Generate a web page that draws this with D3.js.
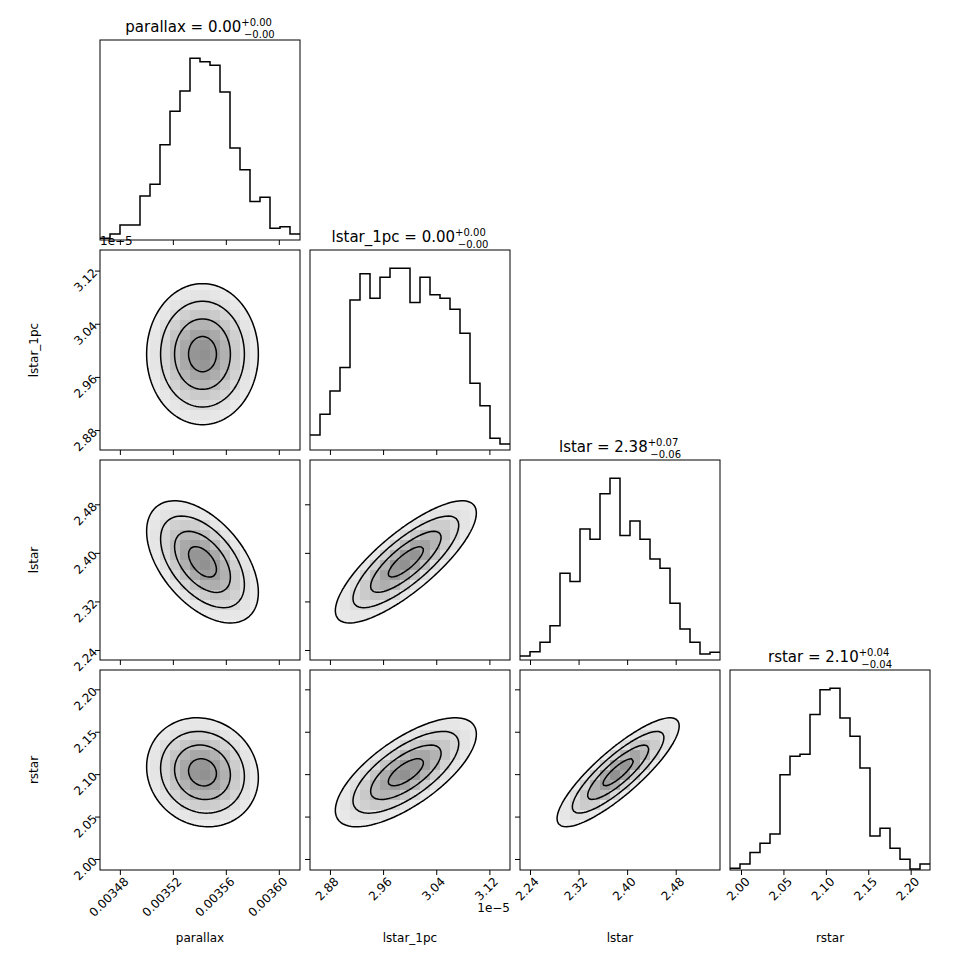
<!DOCTYPE html>
<html><head><meta charset="utf-8">
<script src="https://cdn.jsdelivr.net/npm/d3@7"></script>
<style>
body { margin: 0; background: #fff; }
text { font-family: "DejaVu Sans", sans-serif; }
</style></head>
<body><div id="chart"></div>
<script>
// variable names, axis ranges and ticks
let names = ['parallax', 'lstar_1pc', 'lstar', 'rstar']
let domains = [[0.003465, 0.003616], [2.85, 3.151], [2.2235, 2.553], [1.987, 2.2228]]
let ticks = [[0.00348, 0.00352, 0.00356, 0.00360], [2.88, 2.96, 3.04, 3.12], [2.24, 2.32, 2.40, 2.48], [2.00, 2.05, 2.10, 2.15, 2.20]]
let tickFmt = [d3.format('.5f'), d3.format('.2f'), d3.format('.2f'), d3.format('.2f')]
let titles = [['0.00', '+0.00', '\u22120.00'], ['0.00', '+0.00', '\u22120.00'], ['2.38', '+0.07', '\u22120.06'], ['2.10', '+0.04', '\u22120.04']]

// histogram counts (20 bins)
let histParallax = [5, 18, 45, 45, 132, 167, 285, 385, 446, 544, 533, 523, 443, 275, 210, 115, 128, 35, 40, 18]
let histLstar1pc = [45, 107, 177, 247, 450, 528, 455, 518, 545, 545, 442, 518, 465, 455, 422, 350, 200, 133, 35, 18]
let histLstar = [12, 25, 53, 103, 260, 235, 393, 362, 498, 545, 373, 417, 362, 303, 275, 170, 93, 53, 18, 23]
let histRstar = [5, 18, 52, 80, 108, 285, 340, 346, 465, 539, 544, 455, 400, 305, 102, 125, 65, 32, 3, 18]
let hists = [histParallax, histLstar1pc, histLstar, histRstar]

let corr = [
    [1, 0.0, -0.5, -0.1],
    [0.0, 1, 0.8, 0.7],
    [-0.5, 0.8, 1, 0.85],
    [-0.1, 0.7, 0.85, 1]
]

let size = 200, gap = 10, marginLeft = 100, marginTop = 40
let n = names.length

let svg = d3.select('#chart').append('svg')
    .attr('width', 970).attr('height', 970)

// moments from each histogram
let stats = hists.map((h, k) => {
    let [a, b] = domains[k]
    let w = (b - a) / h.length
    let tot = d3.sum(h)
    let m = d3.sum(h, (c, i) => c * (a + (i + 0.5) * w)) / tot
    let v = d3.sum(h, (c, i) => c * Math.pow(a + (i + 0.5) * w - m, 2)) / tot
    return { mean: m, sd: Math.sqrt(v) * 0.85 }
})

function panelScales(i, j) {
    let x = d3.scaleLinear().domain(domains[j]).range([0, size])
    let y = d3.scaleLinear().domain(domains[i]).range([size, 0])
    return { x, y }
}

function drawAxes(g, i, j, s, isHist) {
    let xAxis = d3.axisBottom(s.x).tickValues(ticks[j]).tickSizeOuter(0).tickSize(5)
    let gx = g.append('g').attr('transform', `translate(0,${size})`).call(xAxis)
    if (i < n - 1) gx.selectAll('text').remove()
    else {
        gx.selectAll('text').text(d => tickFmt[j](d))
            .attr('text-anchor', 'end').attr('dx', '-0.2em').attr('dy', '0.6em')
            .attr('transform', 'rotate(-45)').style('font-size', '12px').attr('fill', '#000')
    }
    if (!isHist) {
        let yAxis = d3.axisLeft(s.y).tickValues(ticks[i]).tickSizeOuter(0).tickSize(5)
        let gy = g.append('g').call(yAxis)
        if (j > 0) gy.selectAll('text').remove()
        else {
            gy.selectAll('text').text(d => tickFmt[i](d))
                .attr('text-anchor', 'end').attr('dx', '0.2em').attr('dy', '0.5em')
                .attr('transform', 'rotate(-45,-8,0)').style('font-size', '12px').attr('fill', '#000')
        }
        gy.select('.domain').remove()
    }
    gx.select('.domain').remove()
    g.append('rect').attr('width', size).attr('height', size)
        .attr('fill', 'none').attr('stroke', '#000').attr('stroke-width', 1)
}

for (let i = 0; i < n; i++) {
    for (let j = 0; j <= i; j++) {
        let g = svg.append('g')
            .attr('transform', `translate(${marginLeft + j * (size + gap)},${marginTop + i * (size + gap)})`)
        let s = panelScales(i, j)
        if (i === j) {
            let h = hists[i]
            let [a, b] = domains[i]
            let w = (b - a) / h.length
            let y = d3.scaleLinear().domain([0, d3.max(h) * 1.1]).range([size, 0])
            let pts = []
            h.forEach((c, k) => {
                pts.push([s.x(a + k * w), y(c)])
                pts.push([s.x(a + (k + 1) * w), y(c)])
            })
            g.append('path').attr('d', d3.line()(pts))
                .attr('fill', 'none').attr('stroke', '#000').attr('stroke-width', 1.5)
            drawAxes(g, i, j, s, true)
            let t = titles[i]
            let tt = g.append('text').attr('x', size / 2).attr('y', -8)
                .attr('text-anchor', 'middle').style('font-size', '15px')
            tt.append('tspan').text(`${names[i]} = ${t[0]}`)
            tt.append('tspan').text(t[1]).attr('dy', -6).style('font-size', '10px')
            tt.append('tspan').text(t[2]).attr('dx', -28).attr('dy', 12).style('font-size', '10px')
            continue
        }
        // 2D density from marginal moments and correlation
        let sx = stats[j], sy = stats[i], rho = corr[i][j]
        let dens = (xv, yv) => {
            let u = (xv - sx.mean) / sx.sd, v = (yv - sy.mean) / sy.sd
            return Math.exp(-(u * u - 2 * rho * u * v + v * v) / (2 * (1 - rho * rho)))
        }
        let clip = `clip${i}${j}`
        g.append('clipPath').attr('id', clip).append('rect').attr('width', size).attr('height', size)
        let body = g.append('g').attr('clip-path', `url(#${clip})`)
        let nb = 20, cw = size / nb
        let cells = []
        for (let a = 0; a < nb; a++) for (let b = 0; b < nb; b++) {
            cells.push({ a, b, d: dens(s.x.invert((a + 0.5) * cw), s.y.invert((b + 0.5) * cw)) })
        }
        let gray = d3.scaleLinear().domain([0, 1]).range(['#ffffff', '#000000'])
        body.selectAll('.cell').data(cells).join('rect')
            .attr('x', d => d.a * cw).attr('y', d => d.b * cw)
            .attr('width', cw + 0.5).attr('height', cw + 0.5)
            .attr('fill', d => gray(Math.pow(d.d, 1.2) * 0.8))
        let ng = 80, gw = size / ng
        let vals = new Array(ng * ng)
        for (let b = 0; b < ng; b++) for (let a = 0; a < ng; a++) {
            vals[b * ng + a] = dens(s.x.invert((a + 0.5) * gw), s.y.invert((b + 0.5) * gw))
        }
        let levels = [2, 1.5, 1, 0.5].map(k => Math.exp(-k * k / 2))
        let cont = d3.contours().size([ng, ng]).thresholds(levels)(vals)
        let proj = d3.geoPath(d3.geoTransform({
            point: function (px, py) { this.stream.point(px * gw, py * gw) }
        }))
        // white mask outside outermost level
        body.append('path')
            .attr('d', `M0,0H${size}V${size}H0Z` + proj(cont[0]))
            .attr('fill', '#fff').attr('fill-rule', 'evenodd')
        body.append('path').attr('d', proj(cont[0])).attr('fill', '#eeeeee').attr('fill-opacity', 0.5)
        body.selectAll('.lvl').data(cont).join('path')
            .attr('d', proj).attr('fill', 'none').attr('stroke', '#000').attr('stroke-width', 1.5)
        drawAxes(g, i, j, s, false)
    }
}

// axis labels
names.forEach((nm, k) => {
    svg.append('text').attr('x', marginLeft + k * (size + gap) + size / 2).attr('y', 942)
        .attr('text-anchor', 'middle').style('font-size', '12px').text(nm)
    if (k > 0) {
        let cy = marginTop + k * (size + gap) + size / 2
        svg.append('text').attr('transform', `translate(38,${cy}) rotate(-90)`)
            .attr('text-anchor', 'middle').style('font-size', '12px').text(nm)
    }
})
// offset labels for lstar_1pc
svg.append('text').attr('x', 100).attr('y', 245).style('font-size', '12px').text('1e\u22125')
svg.append('text').attr('x', 510).attr('y', 912).attr('text-anchor', 'end').style('font-size', '12px').text('1e\u22125')
</script></body></html>
